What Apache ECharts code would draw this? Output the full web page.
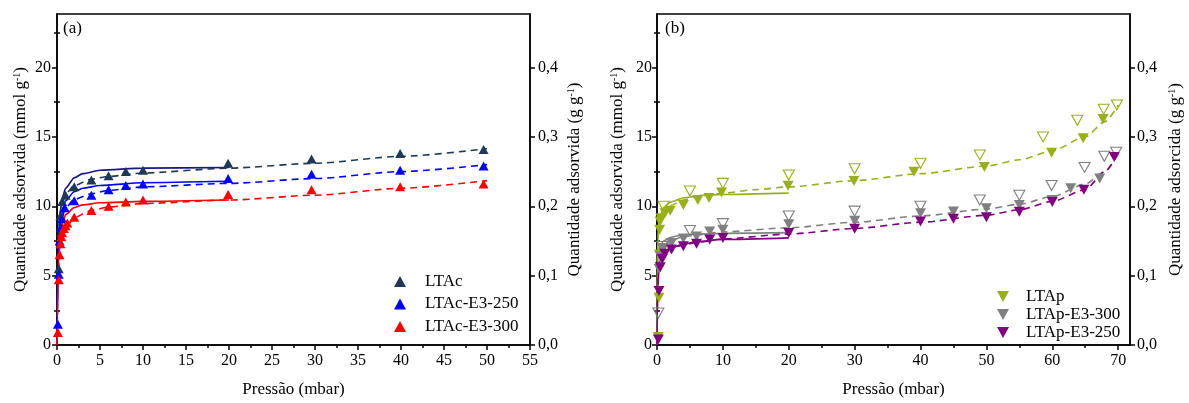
<!DOCTYPE html>
<html><head><meta charset="utf-8">
<script src="https://cdn.jsdelivr.net/npm/echarts@6/dist/echarts.min.js"></script>
<style>html,body{margin:0;padding:0;background:#fff}#c{width:1189px;height:403px}</style>
</head><body><div id="c"></div>
<script>
// ---------- Panel (a) : data ----------
const aXMajor = [0,5,10,15,20,25,30,35,40,45,50,55];
const yMajor = [0,5,10,15,20];
const yMinor = [2.5,7.5,12.5,17.5,22.5];
const rMajor = [0,0.1,0.2,0.3,0.4];
const rMinor = [0.05,0.15,0.25,0.35,0.45];

const a_LTAc_p = [0.2,0.4,0.6,1,2,4,6,8,10,19.9,29.6,39.9,49.6];
const a_LTAc_q = [5.5,9.3,10.35,10.8,11.4,11.9,12.2,12.5,12.6,13.1,13.4,13.8,14.1];
const a_E250_p = [0.1,0.2,0.3,0.45,0.6,0.9,2,4,6,8,10,19.9,29.6,39.9,49.6];
const a_E250_q = [1.5,5.1,7.5,8.5,9.1,9.9,10.4,10.8,11.2,11.5,11.6,12.0,12.3,12.6,12.9];
const a_E300_p = [0.1,0.2,0.3,0.4,0.5,0.6,0.8,1,1.2,2,4,6,8,10,19.9,29.6,39.9,49.6];
const a_E300_q = [0.9,4.7,6.5,7.3,7.8,8.1,8.4,8.6,8.8,9.2,9.7,10.0,10.3,10.45,10.85,11.2,11.4,11.6];

const a_LTAc_fitS_p = [0,0.05,0.1,0.2,0.4,0.7,1,2,3,5,10,20];
const a_LTAc_fitS_q = [0,3,5.5,8,9.8,10.8,11.3,12.05,12.35,12.6,12.75,12.8];
const a_LTAc_fitD_p = [0.05,0.2,0.5,1,2,4,6,10,20,30,40,50];
const a_LTAc_fitD_q = [6,8.5,10,10.9,11.5,11.95,12.15,12.4,12.75,13.1,13.6,14.15];
const a_E250_fitS_p = [0,0.05,0.1,0.2,0.4,0.7,1,2,3,5,10,20];
const a_E250_fitS_q = [0,2.5,4.5,7,8.8,9.9,10.4,11.05,11.3,11.5,11.7,11.8];
const a_E250_fitD_p = [0.05,0.2,0.5,1,2,4,6,10,20,30,40,50];
const a_E250_fitD_q = [5,7.5,9,9.9,10.5,10.9,11.15,11.4,11.65,12.0,12.5,13.0];
const a_E300_fitS_p = [0,0.05,0.1,0.2,0.4,0.7,1,2,3,5,10,20];
const a_E300_fitS_q = [0,2,4,6,7.8,8.9,9.4,9.9,10.1,10.25,10.35,10.45];
const a_E300_fitD_p = [0.1,0.3,0.5,1,2,4,6,10,20,30,40,50];
const a_E300_fitD_q = [4.5,6.5,7.5,8.4,9.2,9.7,9.95,10.2,10.45,10.8,11.3,11.85];

// ---------- Panel (b) : data ----------
const bXMajor = [0,10,20,30,40,50,60,70];
const bXMinor = [5,15,25,35,45,55,65];

const b_LTAp_p = [0.2,0.3,0.35,0.4,0.45,0.6,1.2,2,4,6.2,7.9,9.8,19.9,29.9,39,49.7,59.9,64.7,67.7];
const b_LTAp_q = [0.57,3.4,6.5,8.3,8.9,9.14,9.5,9.67,10.1,10.45,10.6,11.0,11.48,11.83,12.48,12.83,13.86,14.9,16.29];
const b_LTAp_open_p = [1,5,10,20,30,40,49,58.6,63.8,67.8,69.8];
const b_LTAp_open_q = [10.0,11.1,11.65,12.25,12.7,13.1,13.7,15.0,16.2,17.0,17.3];
const b_E300_p = [0.3,0.5,1,2.2,4,6,8,10,20,30,40,45,50,55,60,62.8,67.2];
const b_E300_q = [5.5,6.4,7.0,7.36,7.67,7.83,8.19,8.31,8.71,8.95,9.5,9.62,9.86,10.1,10.45,11.3,12.0];
const b_E300_open_p = [0.2,0.8,5,10,20,30,40,49,55,59.9,64.9,67.9,69.7];
const b_E300_open_q = [2.3,7.1,8.25,8.75,9.3,9.65,10.0,10.45,10.8,11.5,12.8,13.6,13.9];
const b_E250_p = [0.2,0.3,0.5,0.8,1.2,2.2,4,6,8,10,20,30,40,45,50,55,60,64.8,69.4];
const b_E250_q = [0.4,3.9,5.6,6.2,6.57,6.88,7.12,7.29,7.6,7.71,8.07,8.38,8.9,9.1,9.2,9.6,10.3,11.2,13.55];

const b_LTAp_fitS_p = [0,0.03,0.08,0.15,0.3,0.6,1,2,4,7,10,20];
const b_LTAp_fitS_q = [0,3,6,7.8,8.8,9.5,9.9,10.3,10.6,10.8,10.85,10.95];
const b_LTAp_fitD_p = [0.05,0.2,0.5,1,2,4,6,10,15,20,30,40,50,55,60,65,68,70];
const b_LTAp_fitD_q = [6,8,9,9.6,10.05,10.45,10.7,10.95,11.2,11.4,11.85,12.35,12.9,13.35,14.0,15.0,16.1,17.3];
const b_E300_fitS_p = [0,0.05,0.15,0.4,1,2,4,10,20];
const b_E300_fitS_q = [0,4,6.2,7.1,7.5,7.75,7.95,8.05,8.1];
const b_E300_fitD_p = [0.1,0.5,1,2,4,6,10,20,30,40,50,55,60,65,68,70];
const b_E300_fitD_q = [5.5,6.8,7.2,7.5,7.8,7.95,8.15,8.45,8.85,9.3,9.8,10.15,10.7,11.6,12.5,13.9];
const b_E250_fitS_p = [0,0.05,0.15,0.4,1,2,4,6,10,20];
const b_E250_fitS_q = [0,2,4.5,6.0,6.6,7.0,7.25,7.45,7.6,7.72];
const b_E250_fitD_p = [0.1,0.3,0.6,1,2,4,6,10,20,30,40,50,55,60,65,68,70];
const b_E250_fitD_q = [3.5,5.5,6.3,6.6,6.95,7.2,7.4,7.65,8.0,8.4,8.85,9.35,9.75,10.35,11.2,12.5,13.8];

// ---------- styling ----------
const FONT = 'Liberation Serif';
const C_NAVY = '#1f3856', C_NAVY_LINE = '#18187e', C_BLUE = '#0000ff', C_RED = '#ff0000';
const C_OLIVE = '#9aaf1c', C_GREY = '#808080', C_PURPLE = '#800080';
const Y_MAX = 23.86, R_FACTOR = 0.02;
const DOWN_TRI = 'path://M0,0L10,0L5,9Z';

const zip = (p, q) => p.map((v, i) => [v, q[i]]);
const AX = {color: '#000', width: 1.5};

function scatter(name, p, q, color, gi, down, open) {
  return {
    name, type: 'scatter', xAxisIndex: gi === 0 ? 0 : 2, yAxisIndex: gi === 0 ? 0 : 4,
    data: zip(p, q), symbol: down ? DOWN_TRI : 'triangle', symbolSize: down ? [11, 10] : [10, 9],
    itemStyle: open ? {color: 'rgba(255,255,255,0)', borderColor: color, borderWidth: 1.1, opacity: 1}
                    : {color, opacity: 1},
    z: 5, silent: true
  };
}
function fit(name, p, q, color, gi, dashed) {
  return {
    name, type: 'line', xAxisIndex: gi === 0 ? 0 : 2, yAxisIndex: gi === 0 ? 0 : 4,
    data: zip(p, q), showSymbol: false, symbol: 'none', smooth: 0.25, smoothMonotone: 'x',
    lineStyle: {color, width: 1.6, type: dashed ? [7, 5] : 'solid'}, z: 3, silent: true
  };
}
const numLabel = {color: '#000', fontFamily: FONT, fontSize: 16};
function xMain(gi, max, major, name) {
  return {type: 'value', gridIndex: gi, min: 0, max, position: 'bottom',
    axisLine: {show: true, onZero: false, lineStyle: AX},
    axisTick: {show: true, inside: false, length: 5, lineStyle: AX, customValues: major},
    axisLabel: Object.assign({margin: 8, customValues: major}, numLabel),
    splitLine: {show: false},
    name, nameLocation: 'middle', nameGap: 36,
    nameTextStyle: {color: '#000', fontFamily: FONT, fontSize: 17}};
}
function xMinor(gi, max, minor) {
  return {type: 'value', gridIndex: gi, min: 0, max, position: 'bottom',
    axisLine: {show: false}, axisLabel: {show: false}, splitLine: {show: false},
    axisTick: {show: true, inside: false, length: 3, lineStyle: AX, customValues: minor}};
}
function yMain(gi, pos, max, major, fmt, name, gap, margin) {
  return {type: 'value', gridIndex: gi, min: 0, max, position: pos, offset: 0,
    axisLine: {show: true, onZero: false, lineStyle: AX},
    axisTick: {show: true, inside: false, length: 5, lineStyle: AX, customValues: major},
    axisLabel: Object.assign({margin, customValues: major, formatter: fmt}, numLabel),
    splitLine: {show: false},
    name, nameLocation: 'middle', nameGap: gap, nameRotate: 90,
    nameTextStyle: {color: '#000', fontFamily: FONT, fontSize: 17,
      rich: {sup: {fontFamily: FONT, fontSize: 10, verticalAlign: 'top', color: '#000'}}}};
}
function yMinorAx(gi, pos, max, minor) {
  return {type: 'value', gridIndex: gi, min: 0, max, position: pos, offset: 0,
    axisLine: {show: false}, axisLabel: {show: false}, splitLine: {show: false},
    axisTick: {show: true, inside: false, length: 3, lineStyle: AX, customValues: minor}};
}
const fmtL = v => String(Math.round(v));
const fmtR = v => v.toFixed(1).replace('.', ',');
const legText = {fontFamily: FONT, fontSize: 17, color: '#000'};

const option = {
  animation: false,
  backgroundColor: '#fff',
  grid: [
    {left: 57, right: 659, top: 14, bottom: 55, show: true, borderColor: '#000', borderWidth: 1.5, backgroundColor: 'transparent'},
    {left: 657, right: 59, top: 14, bottom: 55, show: true, borderColor: '#000', borderWidth: 1.5, backgroundColor: 'transparent'}
  ],
  xAxis: [
    xMain(0, 55, aXMajor, 'Pressão (mbar)'),
    xMinor(0, 55, aXMajor.slice(0, -1).map(v => v + 2.5)),
    xMain(1, 71.8, bXMajor, 'Pressão (mbar)'),
    xMinor(1, 71.8, bXMinor)
  ],
  yAxis: [
    yMain(0, 'left', Y_MAX, yMajor, fmtL, 'Quantidade adsorvida (mmol g{sup|-1})', 28, 6),
    yMain(0, 'right', Y_MAX * R_FACTOR, rMajor, fmtR, 'Quantidade adsorvida (g g{sup|-1})', 36, 8),
    yMinorAx(0, 'left', Y_MAX, yMinor),
    yMinorAx(0, 'right', Y_MAX * R_FACTOR, rMinor),
    yMain(1, 'left', Y_MAX, yMajor, fmtL, 'Quantidade adsorvida (mmol g{sup|-1})', 31, 5),
    yMain(1, 'right', Y_MAX * R_FACTOR, rMajor, fmtR, 'Quantidade adsorcida (g g{sup|-1})', 37, 7),
    yMinorAx(1, 'left', Y_MAX, yMinor),
    yMinorAx(1, 'right', Y_MAX * R_FACTOR, rMinor)
  ],
  legend: [
    {data: [
        {name: 'LTAc', icon: 'triangle', itemStyle: {color: C_NAVY, opacity: 1}},
        {name: 'LTAc-E3-250', icon: 'triangle', itemStyle: {color: C_BLUE, opacity: 1}},
        {name: 'LTAc-E3-300', icon: 'triangle', itemStyle: {color: C_RED, opacity: 1}}],
      orient: 'vertical', left: 389, top: 268,
      itemWidth: 12, itemHeight: 11, itemGap: 5.5, selectedMode: false,
      textStyle: Object.assign({padding: [0, 0, 0, 14]}, legText)},
    {data: [
        {name: 'LTAp', icon: DOWN_TRI, itemStyle: {color: C_OLIVE, opacity: 1}},
        {name: 'LTAp-E3-300', icon: DOWN_TRI, itemStyle: {color: C_GREY, opacity: 1}},
        {name: 'LTAp-E3-250', icon: DOWN_TRI, itemStyle: {color: C_PURPLE, opacity: 1}}],
      orient: 'vertical', left: 992, top: 283,
      itemWidth: 12, itemHeight: 11, itemGap: 1, selectedMode: false,
      textStyle: Object.assign({padding: [0, 0, 0, 12]}, legText)}
  ],
  graphic: [
    {type: 'text', left: 63, top: 20, style: {text: '(a)', fontFamily: FONT, fontSize: 17, fill: '#000'}},
    {type: 'text', left: 665, top: 20, style: {text: '(b)', fontFamily: FONT, fontSize: 17, fill: '#000'}}
  ],
  series: [
    fit('fitA1s', a_LTAc_fitS_p, a_LTAc_fitS_q, C_NAVY_LINE, 0, false),
    fit('fitA1d', a_LTAc_fitD_p, a_LTAc_fitD_q, C_NAVY, 0, true),
    fit('fitA2s', a_E250_fitS_p, a_E250_fitS_q, C_BLUE, 0, false),
    fit('fitA2d', a_E250_fitD_p, a_E250_fitD_q, C_BLUE, 0, true),
    fit('fitA3s', a_E300_fitS_p, a_E300_fitS_q, C_RED, 0, false),
    fit('fitA3d', a_E300_fitD_p, a_E300_fitD_q, C_RED, 0, true),
    scatter('LTAc', a_LTAc_p, a_LTAc_q, C_NAVY, 0, false, false),
    scatter('LTAc-E3-250', a_E250_p, a_E250_q, C_BLUE, 0, false, false),
    scatter('LTAc-E3-300', a_E300_p, a_E300_q, C_RED, 0, false, false),

    fit('fitB1s', b_LTAp_fitS_p, b_LTAp_fitS_q, C_OLIVE, 1, false),
    fit('fitB1d', b_LTAp_fitD_p, b_LTAp_fitD_q, C_OLIVE, 1, true),
    fit('fitB2s', b_E300_fitS_p, b_E300_fitS_q, C_GREY, 1, false),
    fit('fitB2d', b_E300_fitD_p, b_E300_fitD_q, C_GREY, 1, true),
    fit('fitB3s', b_E250_fitS_p, b_E250_fitS_q, C_PURPLE, 1, false),
    fit('fitB3d', b_E250_fitD_p, b_E250_fitD_q, C_PURPLE, 1, true),
    scatter('LTAp open', b_LTAp_open_p, b_LTAp_open_q, C_OLIVE, 1, true, true),
    scatter('LTAp-E3-300 open', b_E300_open_p, b_E300_open_q, C_GREY, 1, true, true),
    scatter('LTAp', b_LTAp_p, b_LTAp_q, C_OLIVE, 1, true, false),
    scatter('LTAp-E3-300', b_E300_p, b_E300_q, C_GREY, 1, true, false),
    scatter('LTAp-E3-250', b_E250_p, b_E250_q, C_PURPLE, 1, true, false)
  ]
};
const chart = echarts.init(document.getElementById('c'), null, {renderer: 'canvas'});
chart.setOption(option);
</script></body></html>
